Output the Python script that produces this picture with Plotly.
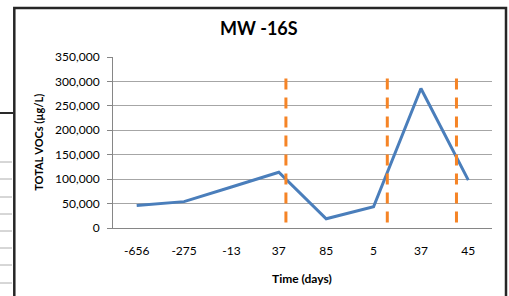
import plotly.graph_objects as go

# ---- data ----
time_labels = ["-656", "-275", "-13", "37", "85", "5", "37", "45"]
total_vocs = [46000, 54000, 84000, 114000, 19000, 43500, 285500, 98000]
event_positions = [3.15, 5.29, 6.75]      # orange dashed markers (category index units)
event_top = 306000
y_ticks = [0, 50000, 100000, 150000, 200000, 250000, 300000, 350000]

FONT = "Lato"
L, R, T, B = 113, 17, 57, 68
W, H = 509, 296
PW = W - L - R
PH = H - T - B

def px(x):
    return (x - L) / PW

def py(y):
    return (H - B - y) / PH

x_idx = list(range(len(time_labels)))

fig = go.Figure()
fig.add_trace(go.Scatter(
    x=x_idx, y=total_vocs, mode="lines",
    line=dict(color="#4A7EBB", width=3),
    hoverinfo="skip", showlegend=False,
))

shapes = []
for ex in event_positions:
    shapes.append(dict(type="line", xref="x", yref="y", x0=ex, x1=ex,
                       y0=event_top, y1=0,
                       line=dict(color="#F58426", width=3, dash="11px,8px")))

# outer chart frame
shapes.append(dict(type="rect", xref="paper", yref="paper",
                   x0=px(14.3), x1=px(506), y0=py(8), y1=py(320),
                   line=dict(color="#262626", width=2.5), layer="above"))
# stray lines from surrounding document (left edge)
shapes.append(dict(type="line", xref="paper", yref="paper",
                   x0=px(0), x1=px(13), y0=py(113), y1=py(113),
                   line=dict(color="#2a2a2a", width=2)))
for yy in [162, 179, 197, 214, 231, 248, 265, 283]:
    shapes.append(dict(type="line", xref="paper", yref="paper",
                       x0=px(0), x1=px(12), y0=py(yy), y1=py(yy),
                       line=dict(color="#AEAEAE", width=1)))

annotations = [
    dict(text="<b>MW -16S</b>", xref="paper", yref="paper",
         x=px(259), y=py(28.5), xanchor="center", yanchor="middle",
         showarrow=False, font=dict(family=FONT, size=18, color="#000000")),
    dict(text="<b>Time (days)</b>", xref="paper", yref="paper",
         x=px(302), y=py(278), xanchor="center", yanchor="middle",
         showarrow=False, font=dict(family=FONT, size=12, color="#000000")),
    dict(text="<b>TOTAL VOCs (µg/L)</b>", xref="paper", yref="paper",
         x=px(38.3), y=py(142.5), xanchor="center", yanchor="middle",
         textangle=-90, showarrow=False,
         font=dict(family=FONT, size=11, color="#000000")),
]

fig.update_layout(
    width=W, height=H,
    margin=dict(l=L, r=R, t=T, b=B, pad=0),
    paper_bgcolor="white", plot_bgcolor="white",
    font=dict(family=FONT, size=12, color="#000000"),
    shapes=shapes, annotations=annotations,
    showlegend=False,
)
fig.update_xaxes(
    range=[-0.5, len(time_labels) - 0.5],
    tickmode="array", tickvals=x_idx, ticktext=time_labels,
    showgrid=False, zeroline=False,
    showline=True, linecolor="#868686", linewidth=1,
    ticks="", ticklabelstandoff=12,
    tickfont=dict(family=FONT, size=12, color="#000000"),
    fixedrange=True,
)
fig.update_yaxes(
    range=[0, 350000],
    tickmode="array", tickvals=y_ticks, tickformat=",",
    showgrid=True, gridcolor="#A6A6A6", gridwidth=1,
    zeroline=False,
    showline=True, linecolor="#868686", linewidth=1,
    ticks="outside", ticklen=5, tickcolor="#868686",
    ticklabelstandoff=5,
    tickfont=dict(family=FONT, size=12, color="#000000"),
    fixedrange=True,
)

fig.write_html("out.html", config={"displayModeBar": False},
               post_script="document.body.style.margin='0';document.body.style.padding='0';")
